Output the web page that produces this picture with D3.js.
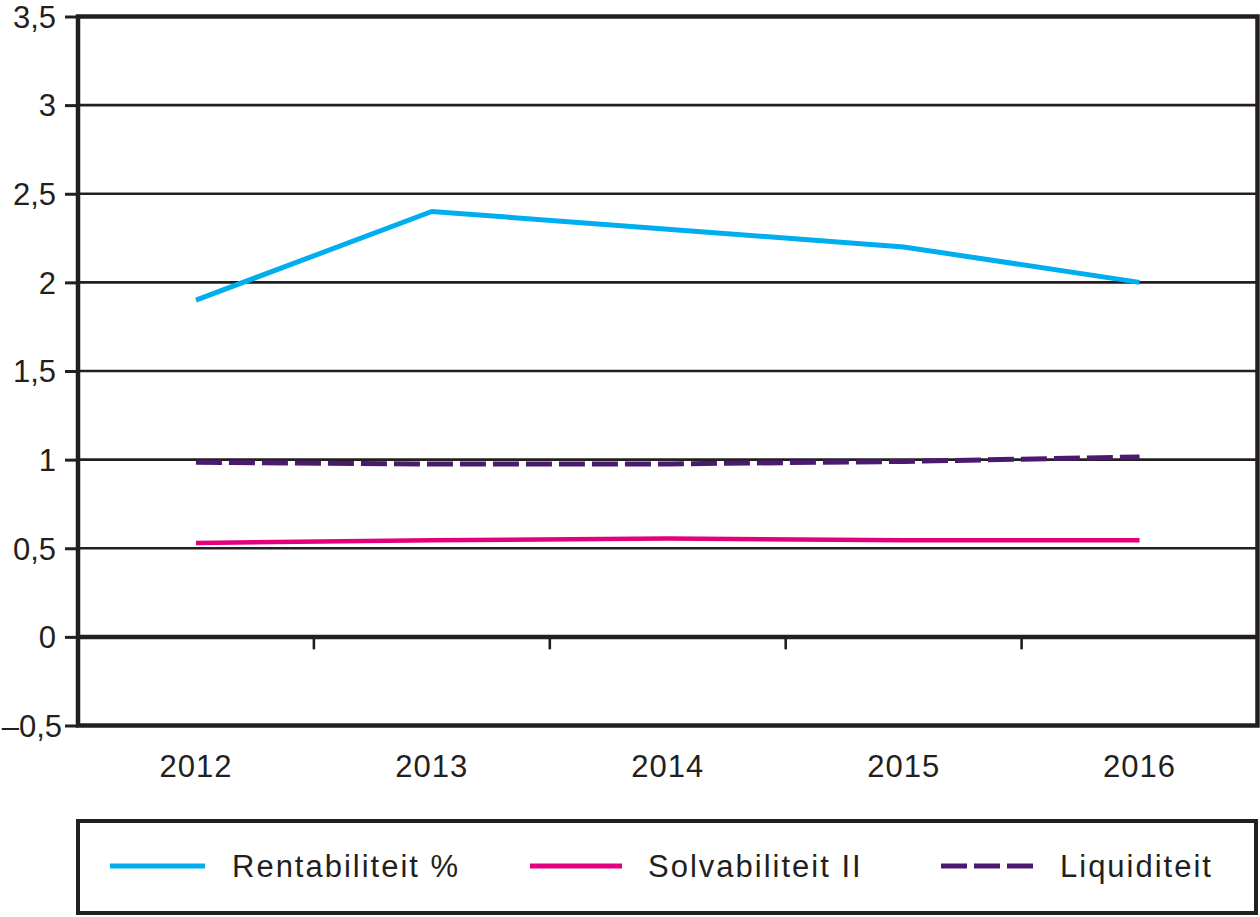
<!DOCTYPE html>
<html>
<head>
<meta charset="utf-8">
<script src="https://cdn.jsdelivr.net/npm/d3@7"></script>
<style>
  html, body { margin: 0; padding: 0; background: #fff; }
  svg { display: block; }
  text { font-family: "Liberation Sans", Arial, sans-serif; fill: #231f20; }
</style>
</head>
<body>
<svg id="chart" width="1260" height="917"></svg>
<script>
const years = ["2012", "2013", "2014", "2015", "2016"];
const rentabiliteit = [1.9, 2.4, 2.3, 2.2, 2.0];
const solvabiliteit = [0.53, 0.545, 0.555, 0.545, 0.545];
const liquiditeit = [0.985, 0.975, 0.976, 0.99, 1.015];
const yTicks = [-0.5, 0, 0.5, 1, 1.5, 2, 2.5, 3, 3.5];
const seriesNames = ["Rentabiliteit %", "Solvabiliteit II", "Liquiditeit"];

const ink = "#231f20";
const colors = ["#00aeef", "#e4007c", "#4b1a6e"];

const svg = d3.select("#chart");
const pLeft = 78, pRight = 1257.5, pTop = 16.5, pBottom = 725.5;

const x = d3.scaleBand().domain(years).range([pLeft, pRight]).padding(0);
const y = d3.scaleLinear().domain([-0.5, 3.5]).range([pBottom, pTop]);
const fmt = v => (v < 0 ? "\u2013" : "") + String(Math.abs(v)).replace(".", ",");

// gridlines
svg.append("g").selectAll("line")
  .data(yTicks.filter(t => t > -0.5 && t < 3.5))
  .join("line")
  .attr("x1", pLeft).attr("x2", pRight)
  .attr("y1", d => y(d)).attr("y2", d => y(d))
  .attr("stroke", ink)
  .attr("stroke-width", d => d === 0 ? 4.5 : 2.6);

// y axis ticks and labels
const yAxis = d3.axisLeft(y).tickValues(yTicks).tickSize(13).tickPadding(9).tickFormat(fmt);
const yg = svg.append("g").attr("transform", `translate(${pLeft},0)`).call(yAxis);
yg.select(".domain").remove();
yg.selectAll(".tick line").attr("stroke", ink).attr("stroke-width", 3);
yg.selectAll(".tick text")
  .attr("font-size", 31)
  .attr("fill", ink).attr("font-family", "Liberation Sans, Arial, sans-serif")
  .attr("dy", "0.35em")
  .attr("dx", d => d < 0 ? 6 : 0);

// x axis tick marks at band boundaries below zero line
const bounds = years.slice(1).map(yr => x(yr));
svg.append("g").selectAll("line").data(bounds).join("line")
  .attr("x1", d => d).attr("x2", d => d)
  .attr("y1", y(0)).attr("y2", y(0) + 12.5)
  .attr("stroke", ink).attr("stroke-width", 2.6);

// x labels
svg.append("g").selectAll("text").data(years).join("text")
  .attr("x", d => x(d) + x.bandwidth() / 2)
  .attr("y", 777)
  .attr("text-anchor", "middle")
  .attr("font-size", 31).attr("letter-spacing", 1)
  .text(d => d);

// frame
svg.append("rect")
  .attr("x", pLeft).attr("y", pTop)
  .attr("width", pRight - pLeft).attr("height", pBottom - pTop)
  .attr("fill", "none").attr("stroke", ink).attr("stroke-width", 4.5);

// series
const line = d3.line()
  .x((d, i) => x(years[i]) + x.bandwidth() / 2)
  .y(d => y(d));

svg.append("path").datum(solvabiliteit)
  .attr("d", line).attr("fill", "none")
  .attr("stroke", colors[1]).attr("stroke-width", 4.5);
svg.append("path").datum(liquiditeit)
  .attr("d", line).attr("fill", "none")
  .attr("stroke", colors[2]).attr("stroke-width", 5)
  .attr("stroke-dasharray", "26,7");
svg.append("path").datum(rentabiliteit)
  .attr("d", line).attr("fill", "none")
  .attr("stroke", colors[0]).attr("stroke-width", 5);

// legend
svg.append("rect")
  .attr("x", 78).attr("y", 821).attr("width", 1178).attr("height", 92)
  .attr("fill", "none").attr("stroke", ink).attr("stroke-width", 4);

const legendItems = [
  { name: seriesNames[0], color: colors[0], x1: 110, x2: 205, tx: 232, dash: null },
  { name: seriesNames[1], color: colors[1], x1: 530, x2: 622, tx: 648, dash: null },
  { name: seriesNames[2], color: colors[2], x1: 941, x2: 1033, tx: 1060, dash: "26,7" }
];
const lg = svg.append("g");
legendItems.forEach(it => {
  lg.append("line")
    .attr("x1", it.x1).attr("x2", it.x2).attr("y1", 866).attr("y2", 866)
    .attr("stroke", it.color).attr("stroke-width", 5)
    .attr("stroke-dasharray", it.dash);
  lg.append("text")
    .attr("x", it.tx).attr("y", 877)
    .attr("font-size", 31).attr("letter-spacing", 2)
    .text(it.name);
});
</script>
</body>
</html>
